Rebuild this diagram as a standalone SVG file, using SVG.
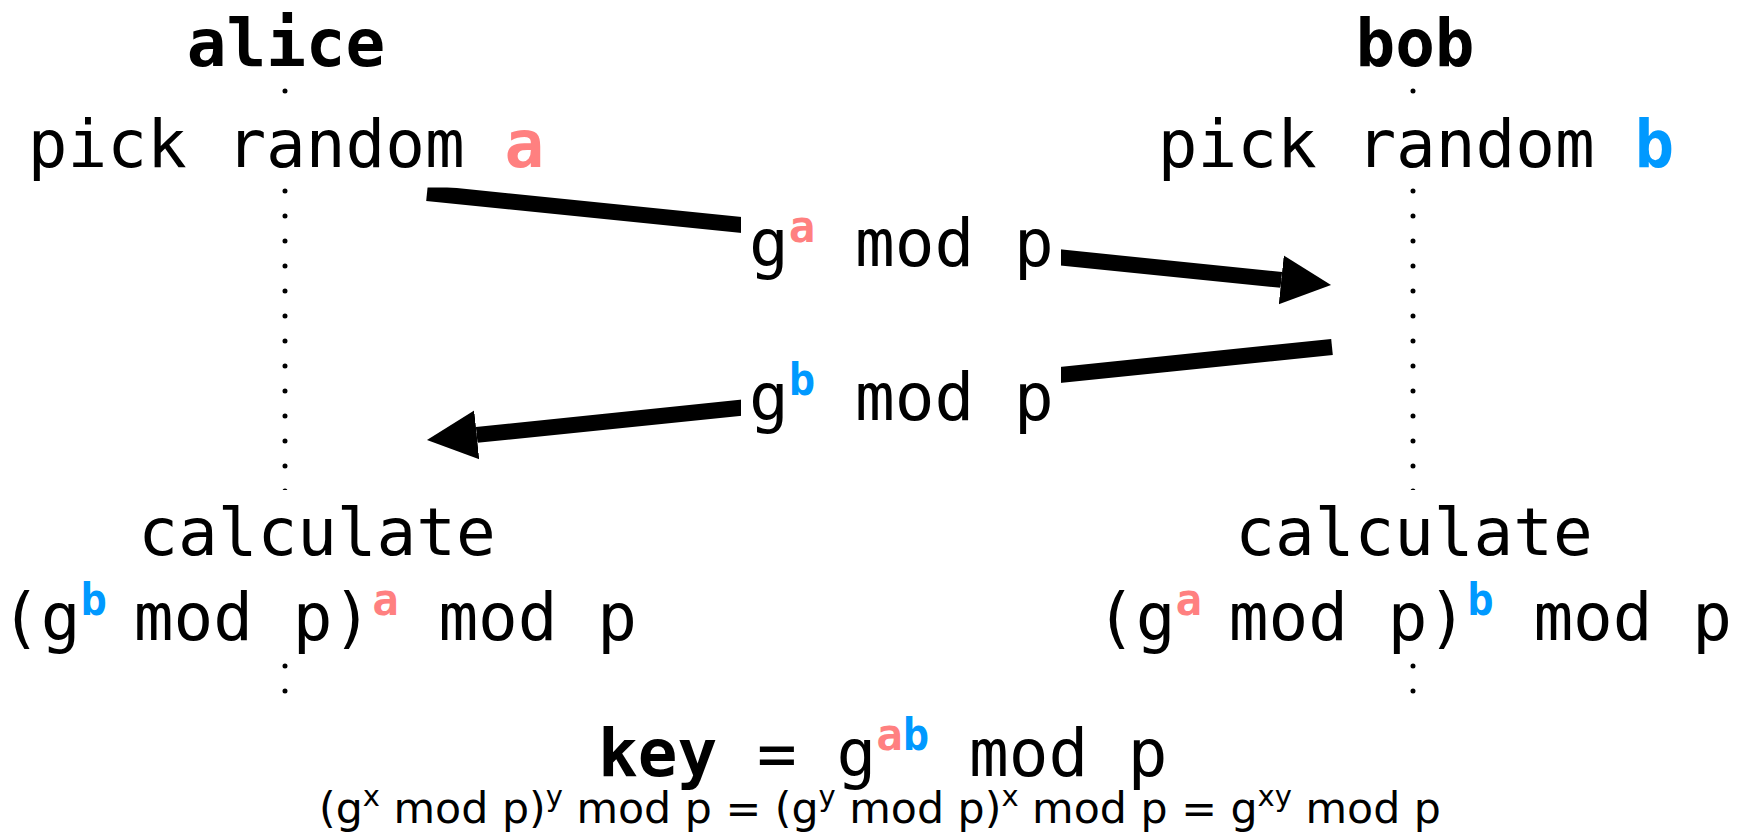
<svg xmlns="http://www.w3.org/2000/svg" width="1743" height="832" viewBox="0 0 1743 832">
<style>
.m{font-family:"DejaVu Sans Mono","Liberation Mono",monospace;font-size:66px;fill:#000;white-space:pre}
.b{font-weight:bold}
.sup{font-size:44px;font-weight:bold}
.ra{fill:#ff8080}
.bl{fill:#0099ff}
.bg{fill:#fff}
.life{stroke:#000;stroke-width:5;stroke-linecap:round;stroke-dasharray:0 25;fill:none}
.msg{stroke:#000;stroke-width:16;fill:none;marker-end:url(#head)}
.s{font-family:"DejaVu Sans","Liberation Sans",sans-serif;font-size:42.7px;fill:#000;white-space:pre}
.ss{font-size:29px}
</style>
<defs>
<marker id="head" markerUnits="userSpaceOnUse" markerWidth="60" markerHeight="60" refX="0" refY="25" orient="auto" viewBox="0 0 60 50">
<path d="M0,0.4 L50,25 L0,49.6 z" fill="#000"/>
</marker>
</defs>
<rect width="1743" height="832" fill="#fff"/>
<g id="connectors">
<line class="life" x1="285" y1="91" x2="285" y2="716"/>
<line class="life" x1="1413" y1="91" x2="1413" y2="716"/>
<line class="msg" x1="427" y1="193" x2="1281.3" y2="279.9"/>
<line class="msg" x1="1332" y1="347" x2="476.7" y2="434.9"/>
</g>
<g id="alice">
<text class="m b" x="286" y="66" text-anchor="middle">alice</text>
</g>
<g id="bob">
<text class="m b" x="1415" y="66" text-anchor="middle">bob</text>
</g>
<g id="alice-pick">
<rect class="bg" x="20" y="94.5" width="540" height="93"/>
<text class="m" x="286" y="167" text-anchor="middle">pick random <tspan class="b ra">a</tspan></text>
</g>
<g id="bob-pick">
<rect class="bg" x="1150" y="94.5" width="540" height="93"/>
<text class="m" x="1416" y="167" text-anchor="middle">pick random <tspan class="b bl">b</tspan></text>
</g>
<g id="msg-a">
<rect class="bg" x="741" y="205" width="320" height="85"/>
<text class="m" x="749" y="266">g<tspan class="sup ra" dy="-24">a</tspan><tspan dy="24"> mod p</tspan></text>
</g>
<g id="msg-b">
<rect class="bg" x="741" y="355" width="320" height="85"/>
<text class="m" x="749" y="420">g<tspan class="sup bl" dy="-25">b</tspan><tspan dy="25"> mod p</tspan></text>
</g>
<g id="alice-calc">
<rect class="bg" x="0" y="490" width="650" height="165"/>
<text class="m" x="317" y="555" text-anchor="middle">calculate</text>
<text class="m" x="1" y="640">(g<tspan class="sup bl" dy="-25">b</tspan><tspan dx="-13" dy="25"> mod p)</tspan><tspan class="sup ra" dy="-25">a</tspan><tspan dy="25"> mod p</tspan></text>
</g>
<g id="bob-calc">
<rect class="bg" x="1085" y="490" width="658" height="165"/>
<text class="m" x="1414" y="555" text-anchor="middle">calculate</text>
<text class="m" x="1096" y="640">(g<tspan class="sup ra" dy="-25">a</tspan><tspan dx="-13" dy="25"> mod p)</tspan><tspan class="sup bl" dy="-25">b</tspan><tspan dy="25"> mod p</tspan></text>
</g>
<g id="key">
<text class="m" x="598" y="776"><tspan class="b">key</tspan> = g<tspan class="sup ra" dy="-26">a</tspan><tspan class="sup bl">b</tspan><tspan dy="26"> mod p</tspan></text>
</g>
<g id="identity">
<text class="s" x="880" y="823" text-anchor="middle">(g<tspan class="ss" dy="-17">x</tspan><tspan dy="17"> mod p)</tspan><tspan class="ss" dy="-17">y</tspan><tspan dy="17"> mod p = (g</tspan><tspan class="ss" dy="-17">y</tspan><tspan dy="17"> mod p)</tspan><tspan class="ss" dy="-17">x</tspan><tspan dy="17"> mod p = g</tspan><tspan class="ss" dy="-17">xy</tspan><tspan dy="17"> mod p</tspan></text>
</g>
</svg>
